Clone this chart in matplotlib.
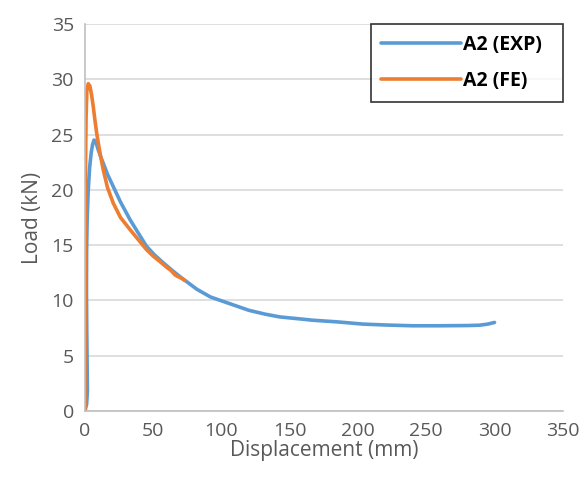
import numpy as np
import matplotlib
matplotlib.use("Agg")
import matplotlib.pyplot as plt

# A2 experimental curve (displacement mm, load kN)
exp_disp = [0, 1.2, 1.8, 1.6, 1.3, 1.1, 1.2, 1.6, 2.4, 3.4, 4.6, 5.6, 6.6, 7.8, 9.5, 11.5, 13.4, 16.5, 20.7,
            26, 33, 39, 45, 51, 57.3, 64, 70, 74.4, 82, 92, 106, 120, 132, 142.7, 155, 167, 185, 203.7,
            220, 240, 260, 280, 289, 295, 300]
exp_load = [0, 0.6, 1.8, 4.0, 7.5, 11.0, 14.5, 17.3, 20.0, 22.0, 23.4, 24.1, 24.5, 24.4, 23.7, 23.0, 22.4, 21.4, 20.3,
            18.9, 17.3, 16.1, 14.9, 14.1, 13.4, 12.7, 12.1, 11.7, 11.0, 10.3, 9.7, 9.1, 8.75, 8.5, 8.35, 8.2, 8.05, 7.85,
            7.77, 7.7, 7.7, 7.72, 7.75, 7.85, 8.0]

# A2 finite element curve
fe_disp = [0, 0.1, 0.2, 0.4, 0.8, 1.4, 2.4, 3.6, 4.8, 6.0, 7.3, 8.5, 9.8, 11.5, 13.4, 16.5, 20.7, 26, 33, 39,
           45, 50, 55, 59.8, 63, 66, 68, 70, 72, 73]
fe_load = [0, 8.0, 16.0, 22.0, 26.5, 29.0, 29.6, 29.4, 28.6, 27.6, 26.3, 25.2, 24.2, 23.0, 21.8, 20.2, 18.8, 17.5, 16.4,
           15.5, 14.6, 14.0, 13.5, 13.0, 12.7, 12.3, 12.15, 12.05, 11.9, 11.8]

plt.rcParams['font.family'] = ['Open Sans', 'DejaVu Sans']

fig = plt.figure(figsize=(5.82, 4.80), dpi=100)
ax = fig.add_axes([0.146, 0.144, 0.821, 0.806])

# trailing spaces give the legend its wide right margin
ax.plot(exp_disp, exp_load, color='#5B9BD5', lw=2.6, label='A2 (EXP)  ',
        solid_capstyle='round', solid_joinstyle='round')
ax.plot(fe_disp, fe_load, color='#ED7D31', lw=2.6, label='A2 (FE)  ',
        solid_capstyle='round', solid_joinstyle='round')

ax.set_xlim(0, 350)
ax.set_ylim(0, 35)
ax.set_xticks(np.arange(0, 351, 50))
ax.set_yticks(np.arange(0, 36, 5))
ax.yaxis.grid(True, color='#D9D9D9', lw=1.2)
ax.set_axisbelow(True)
for s in ['top', 'right']:
    ax.spines[s].set_visible(False)
for s in ['left', 'bottom']:
    ax.spines[s].set_color('#BFBFBF')
    ax.spines[s].set_linewidth(1.2)
ax.tick_params(length=0, labelsize=14, colors='#595959', pad=8)
ax.set_xlabel('Displacement (mm)', fontsize=15, color='#595959', labelpad=0)
ax.set_ylabel('Load (kN)', fontsize=15, color='#595959', labelpad=6)

leg = ax.legend(loc='upper right', bbox_to_anchor=(1.0, 1.0), frameon=True, fancybox=False,
                prop={'weight': 'bold', 'size': 14}, handlelength=4.1, borderpad=0.55,
                labelspacing=0.85, handletextpad=0.1, borderaxespad=0.0)
leg.get_frame().set_edgecolor('black')
leg.get_frame().set_linewidth(1.2)

fig.savefig('out.png', dpi=100)
